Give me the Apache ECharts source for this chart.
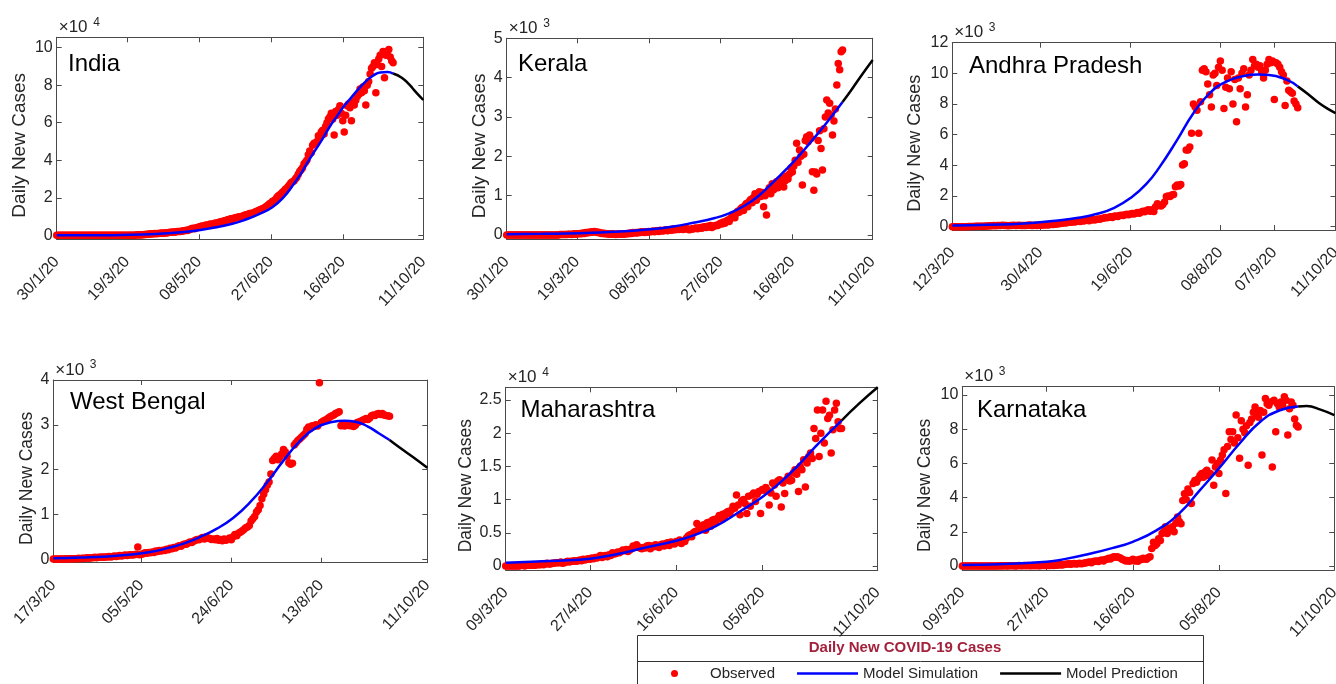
<!DOCTYPE html>
<html><head><meta charset="utf-8">
<script src="https://cdn.jsdelivr.net/npm/echarts@6/dist/echarts.min.js"></script>
<style>html,body{margin:0;padding:0;background:#fff}#c{width:1336px;height:684px}</style>
</head><body><div id="c"></div>
<script>
// ---------- tick labels (dates d/m/yy) ----------
const indiaTicks  = ['30/1/20','19/3/20','08/5/20','27/6/20','16/8/20','11/10/20'];
const keralaTicks = ['30/1/20','19/3/20','08/5/20','27/6/20','16/8/20','11/10/20'];
const apTicks     = ['12/3/20','30/4/20','19/6/20','08/8/20','07/9/20','11/10/20'];
const wbTicks     = ['17/3/20','05/5/20','24/6/20','13/8/20','11/10/20'];
const mhTicks     = ['09/3/20','27/4/20','16/6/20','05/8/20','11/10/20'];
const kaTicks     = ['09/3/20','27/4/20','16/6/20','05/8/20','11/10/20'];

const indiaYTicks  = [0,2,4,6,8,10];
const keralaYTicks = [0,1,2,3,4,5];
const apYTicks     = [0,2,4,6,8,10,12];
const wbYTicks     = [0,1,2,3,4];
const mhYTicks     = [0,0.5,1,1.5,2,2.5];
const kaYTicks     = [0,2,4,6,8,10];

const indiaYLim  = [-0.21, 10.55];
const keralaYLim = [-0.11, 5];
const apYLim     = [-0.22, 12];
const wbYLim     = [-0.08, 4];
const mhYLim     = [-0.06, 2.69];
const kaYLim     = [-0.23, 10.49];

// ---------- observed daily new cases (one value per day from the first tick date, in axis units) ----------
const indiaObs = [
0,0,0,0,0,0,0,0,0,0, 0,0,0,0,0,0,0,0,0,0, 0,0,0,0,0,0,0,0,0,0, 0,0,0,0,0,0,0,0,0,0,
0,0,0,0,0,0.01,0.01,0.01,0.01,0.01,
0.01,0.01,0.01,0.01,0.01,0.02,0.02,0.03,0.02,0.03,
0.03,0.04,0.05,0.06,0.06,0.08,0.07,0.09,0.1,0.09,
0.1,0.1,0.11,0.12,0.11,0.13,0.13,0.14,0.15,0.16,
0.17,0.18,0.17,0.19,0.2,0.21,0.2,0.22,0.24,0.25,
0.27,0.26,0.3,0.33,0.36,0.38,0.35,0.4,0.42,0.45,
0.47,0.5,0.48,0.52,0.55,0.54,0.58,0.6,0.57,0.62,
0.64,0.66,0.65,0.7,0.72,0.7,0.76,0.78,0.8,0.83,
0.85,0.88,0.86,0.91,0.93,0.95,0.97,0.99,0.96,1.02,
1.05,1.08,1.1,1.12,1.15,1.18,1.14,1.2,1.24,1.28,
1.3,1.35,1.38,1.42,1.45,1.5,1.55,1.6,1.68,1.72,
1.8,1.85,1.9,2.0,2.1,2.15,2.2,2.3,2.35,2.45,
2.5,2.6,2.7,2.8,2.85,2.9,3.0,3.1,3.25,3.4,
3.5,3.6,3.8,3.9,4.0,4.3,4.5,4.4,4.8,4.9,
4.9,5.0,5.3,5.2,5.5,5.6,5.4,5.8,6.0,6.2,
6.3,6.5,6.2,5.35,6.6,6.4,6.7,6.9,6.5,6.1,
5.5,6.4,6.9,7.0,6.8,6.1,7.1,6.95,7.2,7.4,
7.5,7.8,7.6,7.9,7.7,6.95,8.0,8.2,8.6,8.9,
9.0,9.2,7.6,9.1,9.4,9.6,9.0,9.8,8.4,9.6,
9.8,9.9,9.5,9.3,9.2];

const keralaObs = [
0,0,0,0,0,0,0,0,0,0, 0,0,0,0,0,0,0,0,0,0, 0,0,0,0,0,0,0,0,0,0,
0,0,0,0,0,0,0,0.01,0.01,0.01,
0.01,0.01,0.01,0.02,0.02,0.01,0.02,0.03,0.02,0.03,
0.03,0.04,0.03,0.05,0.04,0.06,0.05,0.07,0.06,0.08,
0.07,0.09,0.08,0.06,0.07,0.05,0.04,0.05,0.03,0.04,
0.03,0.02,0.03,0.02,0.03,0.02,0.01,0.02,0.03,0.02,
0.02,0.03,0.02,0.03,0.04,0.03,0.05,0.04,0.06,0.05,
0.06,0.05,0.07,0.06,0.08,0.07,0.06,0.08,0.07,0.09,
0.08,0.09,0.1,0.08,0.1,0.11,0.09,0.12,0.11,0.1,
0.12,0.13,0.11,0.13,0.14,0.12,0.15,0.13,0.14,0.15,
0.14,0.16,0.15,0.14,0.16,0.17,0.15,0.13,0.14,0.16,
0.15,0.17,0.18,0.16,0.18,0.19,0.17,0.2,0.21,0.19,
0.22,0.2,0.24,0.19,0.22,0.23,0.25,0.24,0.27,0.3,
0.28,0.33,0.3,0.35,0.38,0.34,0.42,0.45,0.48,0.44,
0.55,0.6,0.58,0.66,0.7,0.62,0.75,0.8,0.72,0.85,
0.9,0.82,0.95,1.05,0.88,1.02,1.1,0.98,1.08,0.72,
1.0,0.51,1.12,1.2,1.05,1.3,1.15,1.25,1.35,1.2,
1.4,1.28,1.45,1.22,1.38,1.5,1.42,1.55,1.7,1.6,
1.75,1.9,2.33,1.85,2.16,2.0,1.27,2.05,2.4,2.5,
2.37,2.54,2.45,1.61,1.14,1.6,1.55,2.4,2.65,2.2,
1.65,2.7,3.0,3.43,3.1,3.35,3.05,2.54,2.9,3.2,
3.81,4.36,4.2,4.66,4.7];

const apObs = [
0,0,0,0,0,0,0,0,0,0.01,
0.01,0.01,0.01,0.02,0.02,0.02,0.03,0.03,0.03,0.04,
0.04,0.05,0.06,0.07,0.06,0.08,0.07,0.08,0.09,0.08,
0.07,0.06,0.08,0.07,0.09,0.08,0.07,0.09,0.08,0.07,
0.08,0.07,0.09,0.1,0.08,0.07,0.09,0.08,0.1,0.09,
0.1,0.11,0.12,0.1,0.13,0.15,0.14,0.16,0.17,0.18,
0.2,0.22,0.25,0.23,0.27,0.3,0.28,0.32,0.3,0.33,
0.35,0.33,0.38,0.36,0.4,0.42,0.39,0.44,0.46,0.43,
0.47,0.5,0.48,0.53,0.55,0.6,0.58,0.62,0.65,0.6,
0.68,0.7,0.66,0.73,0.75,0.72,0.78,0.8,0.77,0.82,
0.85,0.82,0.88,0.92,0.87,0.95,1.0,0.97,1.05,1.1,
1.0,1.1,0.98,1.3,1.5,1.4,1.35,1.45,1.6,1.96,
2.0,1.96,2.07,2.1,2.6,2.72,2.65,2.75,4.02,4.1,
5.0,5.0,5.2,6.09,8.0,7.8,7.6,6.09,8.15,10.2,
10.3,10.1,9.3,8.6,7.8,9.9,10.0,9.2,10.4,10.8,
10.2,7.7,9.1,9.7,9.0,10.1,8.0,9.6,6.85,9.7,
9.0,10.0,10.3,7.8,8.6,9.9,10.2,10.9,10.5,10.6,
10.4,10.5,10.1,9.7,10.2,10.6,10.9,10.7,10.8,8.3,
10.7,10.6,10.4,10.1,9.9,7.9,9.5,8.9,8.8,8.7,
8.2,8.0,7.75];

const wbObs = [
0,0,0,0,0,0,0,0.01,0,0.01,
0.01,0.01,0.01,0.01,0.02,0.01,0.02,0.02,0.02,0.03,
0.02,0.03,0.03,0.04,0.03,0.04,0.04,0.05,0.04,0.05,
0.05,0.06,0.05,0.06,0.07,0.06,0.07,0.08,0.07,0.08,
0.09,0.08,0.09,0.1,0.09,0.1,0.11,0.27,0.1,0.11,
0.12,0.14,0.13,0.15,0.14,0.16,0.15,0.18,0.17,0.19,
0.18,0.2,0.19,0.22,0.21,0.24,0.23,0.26,0.25,0.28,
0.3,0.29,0.32,0.34,0.33,0.36,0.38,0.37,0.4,0.42,
0.44,0.43,0.46,0.48,0.45,0.5,0.47,0.46,0.44,0.45,
0.43,0.46,0.42,0.44,0.41,0.45,0.42,0.44,0.47,0.43,
0.5,0.55,0.52,0.58,0.6,0.63,0.66,0.7,0.72,0.75,
0.85,0.9,0.95,1.05,1.1,1.2,1.35,1.45,1.55,1.65,
1.72,1.9,2.2,2.25,2.3,2.22,2.28,2.35,2.45,2.4,
2.3,2.15,2.12,2.14,2.55,2.6,2.65,2.68,2.72,2.76,
2.8,2.9,2.95,2.92,2.98,2.96,3.0,2.97,3.94,3.05,
3.08,3.1,3.12,3.15,3.18,3.2,3.22,3.25,3.27,3.29,
2.98,3.0,2.97,2.99,3.0,2.98,3.01,2.96,2.99,3.05,
3.06,3.08,3.1,3.12,3.14,3.12,3.15,3.2,3.22,3.21,
3.24,3.25,3.23,3.25,3.22,3.21,3.2,3.19];

const mhObs = [
0,0,0,0,0,0,0,0,0,0.01,
0.01,0,0.01,0.01,0.01,0.01,0.01,0.01,0.02,0.02,
0.02,0.03,0.02,0.03,0.04,0.03,0.03,0.04,0.04,0.05,
0.05,0.05,0.06,0.04,0.05,0.06,0.07,0.06,0.07,0.07,
0.08,0.07,0.08,0.09,0.08,0.1,0.09,0.1,0.11,0.1,
0.12,0.11,0.13,0.12,0.14,0.16,0.13,0.15,0.16,0.14,
0.17,0.16,0.2,0.18,0.19,0.21,0.2,0.22,0.24,0.23,
0.25,0.22,0.24,0.26,0.3,0.28,0.32,0.29,0.27,0.26,
0.28,0.27,0.3,0.31,0.26,0.3,0.29,0.32,0.3,0.28,
0.32,0.33,0.3,0.34,0.35,0.31,0.36,0.35,0.33,0.37,
0.36,0.39,0.34,0.38,0.37,0.42,0.45,0.47,0.44,0.5,
0.52,0.64,0.55,0.6,0.58,0.62,0.54,0.65,0.66,0.6,
0.69,0.7,0.66,0.72,0.76,0.71,0.78,0.74,0.8,0.82,
0.79,0.84,0.9,0.87,1.07,0.92,0.77,0.98,1.0,0.94,
0.79,1.05,0.9,1.07,1.1,0.97,1.08,1.12,0.79,1.15,
1.14,1.18,1.14,0.92,1.1,1.25,1.22,1.05,1.28,1.3,
0.89,1.25,1.09,1.3,1.35,1.28,1.29,1.4,1.45,1.38,
1.12,1.5,1.45,1.6,1.19,1.55,1.65,1.7,1.62,2.07,
1.92,2.35,1.65,2.0,2.35,1.85,2.48,2.22,2.27,1.7,
2.05,2.35,2.45,2.17,2.07,2.07];

const kaObs = [
0,0,0,0,0,0,0,0,0,0,
0,0,0,0,0.01,0.01,0.01,0.01,0.01,0.01,
0.01,0.01,0.02,0.01,0.02,0.02,0.01,0.02,0.02,0.02,
0.02,0.01,0.02,0.03,0.02,0.02,0.03,0.02,0.03,0.02,
0.02,0.03,0.02,0.03,0.02,0.02,0.03,0.03,0.04,0.03,
0.04,0.03,0.05,0.04,0.06,0.05,0.07,0.08,0.06,0.09,
0.1,0.12,0.14,0.11,0.13,0.15,0.12,0.14,0.16,0.13,
0.15,0.18,0.2,0.22,0.24,0.2,0.26,0.28,0.3,0.27,
0.32,0.35,0.3,0.38,0.4,0.45,0.42,0.5,0.55,0.52,
0.55,0.5,0.45,0.38,0.35,0.3,0.32,0.28,0.33,0.4,
0.3,0.35,0.28,0.4,0.38,0.45,0.42,0.4,0.5,0.54,
1.03,1.4,1.2,1.3,1.6,1.5,1.9,2.0,2.3,1.9,
2.1,2.2,2.3,2.0,2.5,2.87,2.6,2.48,3.84,4.23,
3.9,4.5,4.3,3.66,4.83,5.0,4.9,5.1,5.3,5.42,
5.2,5.5,5.6,5.3,5.42,6.2,4.73,5.8,6.0,5.42,
6.2,6.5,6.8,4.24,7.0,7.86,7.4,7.86,7.2,8.83,
7.5,6.3,8.5,8.0,7.8,8.2,5.9,8.4,8.6,9.0,
9.3,8.9,8.7,9.1,6.5,9.0,9.8,9.5,9.4,9.6,
5.8,9.7,7.86,9.5,9.3,9.6,9.4,9.9,9.7,7.66,
9.2,9.6,9.4,8.6,8.24,8.14];

// ---------- model curves [day, value] (simulation up to last observed day, prediction after) ----------
const indiaModel = [[0,0],[20,0.003],[40,0.01],[60,0.04],[80,0.12],[90,0.19],[100,0.29],[110,0.42],[120,0.58],[130,0.8],[140,1.1],[150,1.5],[158,2.05],[165,2.75],[170,3.3],[175,3.95],[180,4.55],[185,5.15],[190,5.8],[195,6.35],[200,6.9],[205,7.35],[210,7.8],[215,8.2],[220,8.5],[225,8.68],[230,8.7],[234,8.62],[240,8.4],[245,8.05],[250,7.62],[255,7.21]];
const keralaModel = [[0,0.02],[25,0.03],[50,0.045],[75,0.08],[100,0.145],[115,0.21],[130,0.31],[145,0.43],[155,0.55],[165,0.73],[175,0.98],[185,1.32],[195,1.68],[205,2.07],[215,2.5],[225,2.95],[234,3.38],[240,3.68],[248,4.1],[255,4.45]];
const apModel = [[0,0.08],[20,0.12],[40,0.2],[60,0.42],[70,0.58],[80,0.82],[90,1.22],[100,1.95],[108,2.8],[115,3.85],[125,5.66],[134,7.4],[143,8.7],[152,9.45],[162,9.83],[170,9.92],[176,9.9],[186,9.57],[192,9.15],[198,8.62],[204,8.05],[210,7.6],[213,7.4]];
const wbModel = [[0,0.02],[15,0.035],[30,0.06],[45,0.11],[54,0.157],[63,0.24],[72,0.34],[82,0.5],[91,0.68],[100,0.92],[109,1.25],[119,1.72],[128,2.2],[137,2.63],[146,2.93],[155,3.06],[162,3.09],[168,3.07],[175,2.96],[181,2.81],[187,2.66],[193,2.48],[200,2.28],[208,2.04]];
const mhModel = [[0,0.05],[15,0.065],[30,0.08],[49,0.11],[65,0.18],[80,0.27],[99,0.38],[110,0.47],[122,0.6],[136,0.82],[149,1.04],[160,1.27],[170,1.52],[180,1.8],[188,2.01],[195,2.19],[205,2.44],[216,2.69]];
const kaModel = [[0,0.06],[25,0.12],[49,0.25],[60,0.42],[74,0.72],[87,1.05],[99,1.42],[113,2.1],[126,3.08],[138,4.44],[149,5.71],[161,7.17],[173,8.44],[184,9.1],[195,9.33],[200,9.36],[208,9.15],[216,8.83]];

const panelNames = ['India','Kerala','Andhra Pradesh','West Bengal','Maharashtra','Karnataka'];
const exponents  = [4,3,3,3,4,3];
const legendNames = ['Observed','Model Simulation','Model Prediction'];
const legendTitle = 'Daily New COVID-19 Cases';

const panels = [
  {ticks:indiaTicks,  yTicks:indiaYTicks,  yLim:indiaYLim,  obs:indiaObs,  model:indiaModel},
  {ticks:keralaTicks, yTicks:keralaYTicks, yLim:keralaYLim, obs:keralaObs, model:keralaModel},
  {ticks:apTicks,     yTicks:apYTicks,     yLim:apYLim,     obs:apObs,     model:apModel},
  {ticks:wbTicks,     yTicks:wbYTicks,     yLim:wbYLim,     obs:wbObs,     model:wbModel},
  {ticks:mhTicks,     yTicks:mhYTicks,     yLim:mhYLim,     obs:mhObs,     model:mhModel},
  {ticks:kaTicks,     yTicks:kaYTicks,     yLim:kaYLim,     obs:kaObs,     model:kaModel}
];

// ---------- layout (positions / sizes) ----------
const layout = [
  {left:56.7,  top:37.3,  width:366.6, height:202,   nameGap:27, nameSize:19,   tx:68,    ty:64},
  {left:506.7, top:38.3,  width:366,   height:201,   nameGap:17, nameSize:19,   tx:518,   ty:64},
  {left:952.3, top:42.7,  width:383.2, height:187.3, nameGap:28, nameSize:18,   tx:969,   ty:66},
  {left:53.3,  top:380,   width:374,   height:182.7, nameGap:17, nameSize:17.5, tx:70,    ty:402.5},
  {left:505.7, top:387.3, width:372,   height:182.7, nameGap:31, nameSize:17.5, tx:520.5, ty:410.5},
  {left:962.3, top:386.7, width:372,   height:183.3, nameGap:28, nameSize:17.5, tx:977,   ty:410.5}
];

const FONT = "'Liberation Sans', Arial, Helvetica, sans-serif";
const AXIS = '#4a4a4a', TEXT = '#262626';
const DAY = 86400000;
function parseDay(s){ const p = s.split('/').map(Number); return Date.UTC(2000+p[2], p[1]-1, p[0]); }

const grid = [], xAxis = [], yAxis = [], series = [], graphic = [];
panels.forEach((p, i) => {
  const L = layout[i];
  const t0 = parseDay(p.ticks[0]);
  const tickDays = p.ticks.map(s => Math.round((parseDay(s) - t0) / DAY));
  const maxDay = tickDays[tickDays.length - 1];
  const ls = {color: AXIS, width: 1};
  grid.push({left:L.left, top:L.top, width:L.width, height:L.height, containLabel:false, outerBoundsMode:'none'});
  xAxis.push({type:'value', gridIndex:i, position:'bottom', min:0, max:maxDay,
    axisLine:{show:true, onZero:false, lineStyle:ls},
    axisTick:{show:true, inside:true, length:5, customValues:tickDays, lineStyle:ls},
    axisLabel:{show:true, customValues:tickDays, rotate:47, margin:20, fontSize:16, color:TEXT, fontFamily:FONT,
      formatter: v => { const k = tickDays.indexOf(Math.round(v)); return k >= 0 ? p.ticks[k] : ''; }},
    splitLine:{show:false}});
  xAxis.push({type:'value', gridIndex:i, position:'top', min:0, max:maxDay,
    axisLine:{show:true, onZero:false, lineStyle:ls},
    axisTick:{show:true, inside:true, length:5, customValues:tickDays, lineStyle:ls},
    axisLabel:{show:false}, splitLine:{show:false}});
  yAxis.push({type:'value', gridIndex:i, position:'left', min:p.yLim[0], max:p.yLim[1],
    name:'Daily New Cases', nameLocation:'middle', nameGap:L.nameGap,
    nameTextStyle:{fontSize:L.nameSize, color:TEXT, fontFamily:FONT, padding:[0,14,0,0]},
    axisLine:{show:true, onZero:false, lineStyle:ls},
    axisTick:{show:true, inside:true, length:5, customValues:p.yTicks, lineStyle:ls},
    axisLabel:{show:true, customValues:p.yTicks, margin:4, fontSize:16, color:TEXT, fontFamily:FONT},
    splitLine:{show:false}});
  yAxis.push({type:'value', gridIndex:i, position:'right', min:p.yLim[0], max:p.yLim[1],
    axisLine:{show:true, onZero:false, lineStyle:ls},
    axisTick:{show:true, inside:true, length:5, customValues:p.yTicks, lineStyle:ls},
    axisLabel:{show:false}, splitLine:{show:false}});

  const split = p.obs.length - 1;
  series.push({type:'scatter', name:legendNames[0], xAxisIndex:2*i, yAxisIndex:2*i,
    data:p.obs.map((v, d) => [d, v]), symbol:'circle', symbolSize:7.5,
    itemStyle:{color:'#ff0000', opacity:1}, z:2, silent:true});
  series.push({type:'line', name:legendNames[1], xAxisIndex:2*i, yAxisIndex:2*i,
    data:p.model.filter(q => q[0] <= split), smooth:true, symbol:'none', showSymbol:false,
    lineStyle:{color:'#0000ff', width:2.5}, itemStyle:{color:'#0000ff'}, z:3, silent:true});
  series.push({type:'line', name:legendNames[2], xAxisIndex:2*i, yAxisIndex:2*i,
    data:p.model.filter(q => q[0] >= split), smooth:true, symbol:'none', showSymbol:false,
    lineStyle:{color:'#000000', width:2.5}, itemStyle:{color:'#000000'}, z:3, silent:true});

  graphic.push({type:'text', x:L.tx, y:L.ty, silent:true,
    style:{text:panelNames[i], fill:'#000', fontSize:24, fontFamily:FONT,
      align:'left', verticalAlign:'middle', textAlign:'left', textVerticalAlign:'middle'}});
  graphic.push({type:'text', x:L.left + 2, y:L.top - 10, silent:true,
    style:{text:'\u00d710', fill:TEXT, fontSize:17, fontFamily:FONT,
      align:'left', verticalAlign:'middle', textAlign:'left', textVerticalAlign:'middle'}});
  graphic.push({type:'text', x:L.left + 36.5, y:L.top - 15, silent:true,
    style:{text:String(exponents[i]), fill:TEXT, fontSize:12, fontFamily:FONT,
      align:'left', verticalAlign:'middle', textAlign:'left', textVerticalAlign:'middle'}});
});

// legend frame and header
graphic.push({type:'rect', silent:true, shape:{x:637.5, y:635.5, width:566, height:60},
  style:{fill:'none', stroke:'#333', lineWidth:1}});
graphic.push({type:'line', silent:true, shape:{x1:637.5, y1:661.5, x2:1203.5, y2:661.5},
  style:{stroke:'#333', lineWidth:1}});
graphic.push({type:'text', x:905, y:648, silent:true,
  style:{text:legendTitle, fill:'#a3213b', fontSize:15, fontWeight:'bold', fontFamily:FONT,
    align:'center', verticalAlign:'middle', textAlign:'center', textVerticalAlign:'middle'}});

const lineIcon = 'path://M0,0L61,0L61,2.5L0,2.5Z';
const chart = echarts.init(document.getElementById('c'), null, {width:1336, height:684});
chart.setOption({
  animation:false,
  backgroundColor:'#ffffff',
  grid, xAxis, yAxis, series, graphic,
  legend:{
    data:[{name:legendNames[0], icon:'circle'}, {name:legendNames[1], icon:lineIcon}, {name:legendNames[2], icon:lineIcon}],
    left:671, top:666, padding:0, itemWidth:61, itemHeight:7, itemGap:22, selectedMode:false,
    textStyle:{fontSize:15, color:TEXT, fontFamily:FONT}
  }
});
</script></body></html>
